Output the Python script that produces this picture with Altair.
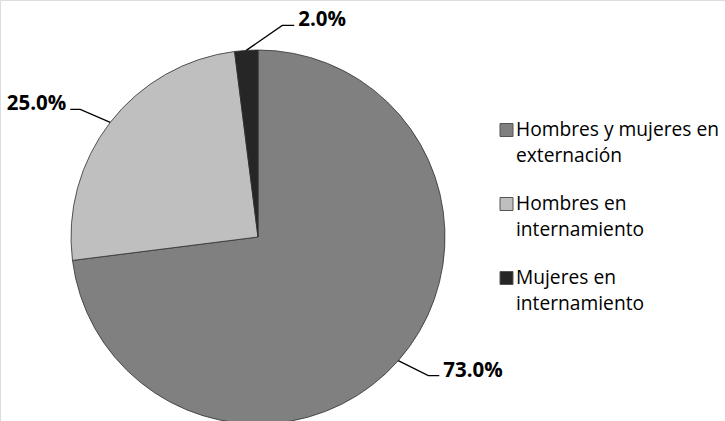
import altair as alt
import numpy as np
import pandas as pd

categories = ["Hombres y mujeres en\nexternación", "Hombres en\ninternamiento", "Mujeres en\ninternamiento"]
values = [73.0, 25.0, 2.0]
pct_labels = ["73.0%", "25.0%", "2.0%"]
colors = ["#808080", "#bfbfbf", "#262626"]

# layout / style
CX, CY, R = 258, 237, 187
W, H = 725, 421
elbow_px = [(30, 15), (-30, -13), (36, -25)]   # (right, down) from slice edge
stub_px = [11, -10, 12]
FONT = "Open Sans"

n = len(values)
total = float(sum(values))
cum = np.concatenate([[0.0], np.cumsum(values)])
mid = [(cum[i] + cum[i + 1]) / 2 / total * 2 * np.pi for i in range(n)]

pie_df = pd.DataFrame({"cat": categories, "value": values, "idx": list(range(n))})

line_rows, text_rows = [], []
for i in range(n):
    ex, ey = np.sin(mid[i]), np.cos(mid[i])
    bx, by = ex + elbow_px[i][0] / R, ey - elbow_px[i][1] / R
    sx, sy = bx + stub_px[i] / R, by
    for k, (px, py) in enumerate([(ex, ey), (bx, by), (sx, sy)]):
        line_rows.append({"id": i, "k": k, "ux": px, "uy": py})
    side = 1 if stub_px[i] > 0 else -1
    text_rows.append({"label": pct_labels[i], "ux": sx + side * 4 / R, "uy": sy, "side": side})
line_df = pd.DataFrame(line_rows)
text_df = pd.DataFrame(text_rows)

xs = alt.Scale(domain=[-1, 1], range=[CX - R, CX + R])
ys = alt.Scale(domain=[-1, 1], range=[CY + R, CY - R])

pie = alt.Chart(pie_df).mark_arc(radius=R, stroke="#303030", strokeWidth=0.8).encode(
    theta=alt.Theta("value:Q", stack=True),
    order=alt.Order("idx:Q"),
    color=alt.Color("cat:N", scale=alt.Scale(domain=categories, range=colors), legend=None),
    x=alt.datum(0, scale=xs, axis=None),
    y=alt.datum(0, scale=ys, axis=None),
)

leaders = alt.Chart(line_df).mark_line(color="black", strokeWidth=1.3).encode(
    x=alt.X("ux:Q", scale=xs, axis=None),
    y=alt.Y("uy:Q", scale=ys, axis=None),
    detail="id:N",
    order="k:Q",
)

txt_right = alt.Chart(text_df).transform_filter("datum.side > 0").mark_text(
    align="left", baseline="alphabetic", dy=1, font=FONT, fontSize=20.5, fontWeight="bold", color="black"
).encode(x=alt.X("ux:Q", scale=xs, axis=None), y=alt.Y("uy:Q", scale=ys, axis=None), text="label:N")

txt_left = alt.Chart(text_df).transform_filter("datum.side < 0").mark_text(
    align="right", baseline="alphabetic", dy=1, font=FONT, fontSize=20.5, fontWeight="bold", color="black"
).encode(x=alt.X("ux:Q", scale=xs, axis=None), y=alt.Y("uy:Q", scale=ys, axis=None), text="label:N")

leg_df = pd.DataFrame({"cat": categories, "idx": list(range(n))})
leg_y = alt.Scale(type="point", domain=list(range(n)), range=[130, 278], padding=0)

leg_sym = alt.Chart(leg_df).mark_square(size=169, stroke="#555555", strokeWidth=1, opacity=1).encode(
    x=alt.value(506.5),
    y=alt.Y("idx:O", scale=leg_y, axis=None),
    color=alt.Color("cat:N", scale=alt.Scale(domain=categories, range=colors), legend=None),
)
leg_txt = alt.Chart(leg_df).mark_text(
    align="left", baseline="middle", lineBreak="\n", lineHeight=26, font=FONT, fontSize=19.2, color="black"
).encode(
    x=alt.value(516),
    y=alt.Y("idx:O", scale=leg_y, axis=None),
    text="cat:N",
)

chart = alt.layer(pie, leaders, txt_right, txt_left, leg_sym, leg_txt).resolve_scale(
    y="independent"
).properties(
    width=W, height=H, padding=0, autosize=alt.AutoSizeParams(type="none")
).configure_view(stroke=None).configure(background="white")

chart.save("out.html", embed_options={"renderer": "svg", "actions": False})
